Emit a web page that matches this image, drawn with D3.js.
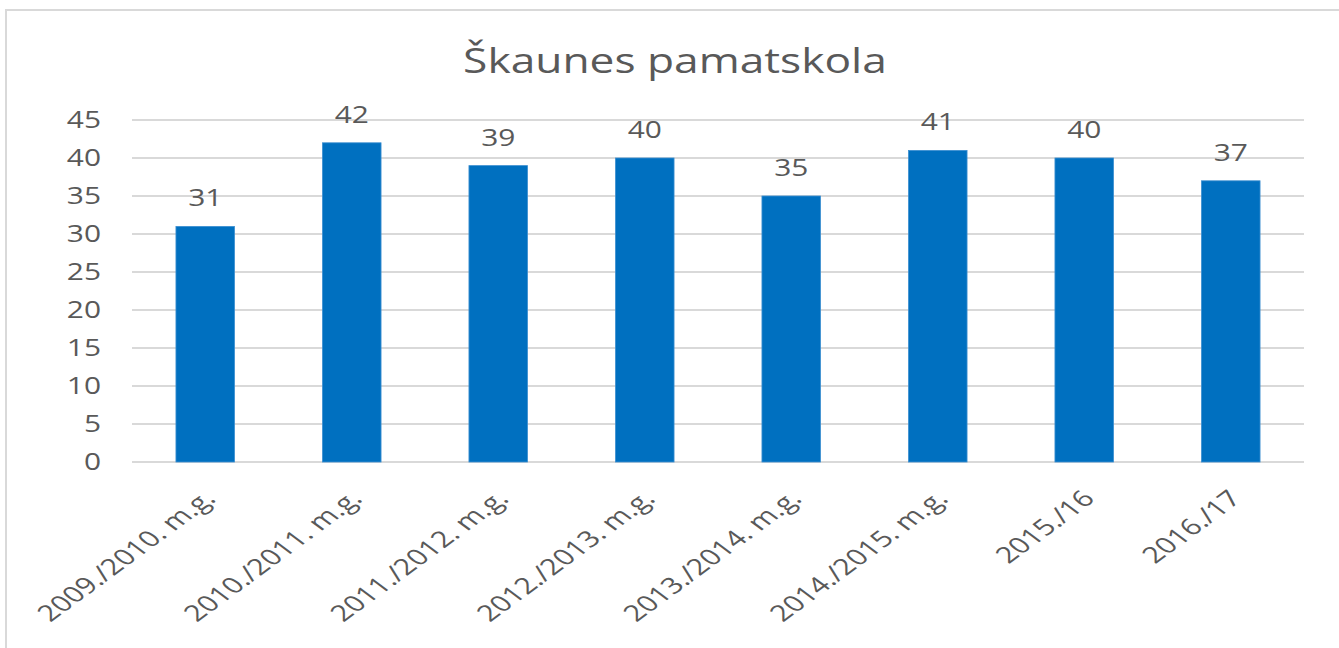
<!DOCTYPE html>
<html>
<head>
<meta charset="utf-8">
<script src="https://cdn.jsdelivr.net/npm/d3@7"></script>
<style>
  body { margin: 0; background: #fff; }
  svg { display: block; }
  text { font-family: "Open Sans", sans-serif; fill: #595959; }
</style>
</head>
<body>
<div id="chart"></div>
<script>
const title = "Škaunes pamatskola";
const categories = ["2009./2010. m.g.", "2010./2011. m.g.", "2011./2012. m.g.", "2012./2013. m.g.",
  "2013./2014. m.g.", "2014./2015. m.g.", "2015./16", "2016./17"];
const values = [31, 42, 39, 40, 35, 41, 40, 37];
const yTicks = [0, 5, 10, 15, 20, 25, 30, 35, 40, 45];

let width = 1339,
  height = 648;
// the picture is stretched sideways, so text gets a horizontal scale
let sx = 1.3,
  sxLabel = 1.36;

let svg = d3.select("#chart")
  .append("svg")
  .attr("width", width)
  .attr("height", height);

// chart frame
svg.append("rect")
  .attr("x", 6)
  .attr("y", 10)
  .attr("width", width + 10)
  .attr("height", height + 10)
  .attr("fill", "#fff")
  .attr("stroke", "#d9d9d9")
  .attr("stroke-width", 2);

let x = d3.scaleBand()
  .domain(categories)
  .range([132, 1304])
  .paddingInner(0.6)
  .paddingOuter(0.3);

let y = d3.scaleLinear()
  .domain([0, 45])
  .range([462, 120]);

// title
let t = svg.append("text")
  .attr("text-anchor", "middle")
  .style("font-size", "34px")
  .text(title);
let tw = t.node().getComputedTextLength();
t.attr("transform", "translate(675,73) scale(" + (424 / tw) + ",1)");

// gridlines
svg.append("g")
  .selectAll("line")
  .data(yTicks)
  .enter()
  .append("line")
  .attr("x1", 132)
  .attr("x2", 1304)
  .attr("y1", d => y(d))
  .attr("y2", d => y(d))
  .attr("stroke", "#d9d9d9")
  .attr("stroke-width", 2);

// y labels
svg.append("g")
  .selectAll("text")
  .data(yTicks)
  .enter()
  .append("text")
  .attr("text-anchor", "end")
  .attr("dy", "0.36em")
  .attr("transform", d => "translate(101," + y(d) + ") scale(" + sx + ",1)")
  .style("font-size", "23px")
  .text(d => d);

// bars
svg.append("g")
  .selectAll("rect")
  .data(values)
  .enter()
  .append("rect")
  .attr("x", (d, i) => x(categories[i]))
  .attr("y", d => y(d))
  .attr("width", x.bandwidth())
  .attr("height", d => y(0) - y(d))
  .attr("fill", "#0070c0")
  .attr("stroke", "#3d8fd1")
  .attr("stroke-width", 0.8);

// value labels
svg.append("g")
  .selectAll("text")
  .data(values)
  .enter()
  .append("text")
  .attr("text-anchor", "middle")
  .attr("transform", (d, i) => "translate(" + (x(categories[i]) + x.bandwidth() / 2) + "," + (y(d) - 20) + ") scale(" + sx + ",1)")
  .style("font-size", "23px")
  .text(d => d);

// category labels, rotated
svg.append("g")
  .selectAll("text")
  .data(categories)
  .enter()
  .append("text")
  .attr("text-anchor", "end")
  .attr("transform", d => "translate(" + (x(d) + x.bandwidth() / 2 + 12) + ",500) scale(" + sxLabel + ",1) rotate(-45)")
  .style("font-size", "22.5px")
  .text(d => d);
</script>
</body>
</html>
